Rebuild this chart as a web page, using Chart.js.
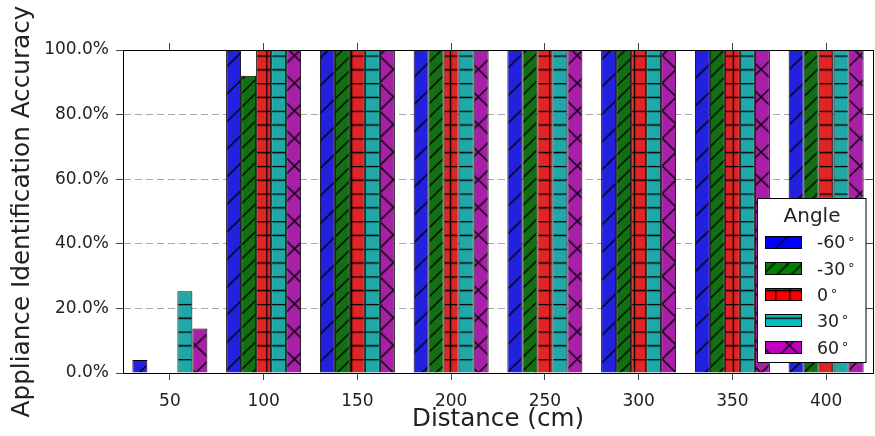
<!DOCTYPE html>
<html><head><meta charset="utf-8">
<script src="https://cdn.jsdelivr.net/npm/chart.js@4.4.1/dist/chart.umd.min.js"></script>
<style>html,body{margin:0;padding:0;background:#fff;}#wrap{width:875px;height:436px;}</style>
</head><body><div id="wrap"><canvas id="c" width="875" height="436"></canvas></div>
<script>
// ---- data ----
const distances = ['50', '100', '150', '200', '250', '300', '350', '400'];
const angleLabels = ['-60', '-30', '0', '30', '60'];
const accNeg60 = [4.0, 100, 100, 100, 100, 100, 100, 100];
const accNeg30 = [0, 92.0, 100, 100, 100, 100, 100, 100];
const acc0     = [0, 100, 100, 100, 100, 100, 100, 100];
const acc30    = [25.3, 100, 100, 100, 100, 100, 100, 100];
const acc60    = [13.8, 100, 100, 100, 100, 100, 100, 100];
const yTickValues = [0, 20, 40, 60, 80, 100];

// ---- styles ----
const FONT = "'DejaVu Sans', sans-serif";
const barColors = ['rgb(34,34,222)', 'rgb(18,112,18)', 'rgb(225,36,36)', 'rgb(32,168,168)', 'rgb(168,32,168)'];
const legendColors = ['#0000ff', '#007f00', '#ff0000', '#00bfbf', '#bf00bf'];
const hatchKinds = ['ne', 'ne2', 'plus', 'h', 'x'];

function makeHatch(bg, kind) {
  const P = 14, S = 28;
  const c = document.createElement('canvas');
  c.width = S; c.height = S;
  const g = c.getContext('2d');
  g.fillStyle = bg; g.fillRect(0, 0, S, S);
  g.strokeStyle = '#000'; g.lineWidth = 1.4;
  g.beginPath();
  if (kind === 'h' || kind === 'plus') for (let y = 0; y < S; y += P) { g.moveTo(0, y + 0.5); g.lineTo(S, y + 0.5); }
  if (kind === 'plus') for (let x = 0; x < S; x += P) { g.moveTo(x + 0.5, 0); g.lineTo(x + 0.5, S); }
  if (kind === 'ne' || kind === 'x') for (let k = -S; k <= S; k += S) { g.moveTo(k, S); g.lineTo(k + S, 0); }
  if (kind === 'ne2') for (let k = -S; k <= S; k += P) { g.moveTo(k, S); g.lineTo(k + S, 0); }
  if (kind === 'x') for (let k = -S; k <= S; k += S) { g.moveTo(k, 0); g.lineTo(k + S, S); }
  g.stroke();
  const pat = g.createPattern(c, 'repeat');
  try { pat.setTransform(new DOMMatrix([14.14 / P, 0, 0, 13.8 / P, 11.7, 0.3])); } catch (e) {}
  return pat;
}
const barPatterns = barColors.map((c, i) => makeHatch(c, hatchKinds[i]));
const legendPatterns = legendColors.map((c, i) => makeHatch(c, hatchKinds[i]));

const series = [accNeg60, accNeg30, acc0, acc30, acc60];

const legendPlugin = {
  id: 'angleLegend',
  afterDraw(chart) {
    const ctx = chart.ctx;
    ctx.save();
    const bx = 757.5, by = 198.5, bw = 108.5, bh = 164;
    ctx.fillStyle = '#fff';
    ctx.fillRect(bx, by, bw, bh);
    ctx.strokeStyle = '#000'; ctx.lineWidth = 1;
    ctx.strokeRect(bx, by, bw, bh);
    ctx.fillStyle = '#222';
    ctx.font = '20px ' + FONT;
    ctx.textAlign = 'center'; ctx.textBaseline = 'alphabetic';
    ctx.fillText('Angle', 812, 222);
    chart.data.datasets.forEach((ds, i) => {
      const cy = 242 + i * 26.3;
      const top = Math.round(cy - 6.5);
      ctx.fillStyle = legendPatterns[i];
      ctx.fillRect(765, top, 37, 13);
      ctx.strokeStyle = '#000';
      ctx.strokeRect(765.5, top + 0.5, 36, 12);
      ctx.fillStyle = '#222';
      ctx.font = '17.4px ' + FONT;
      ctx.textAlign = 'left';
      ctx.fillText(ds.label, 817, cy + 6.3);
      const w = ctx.measureText(ds.label).width;
      ctx.font = '13px ' + FONT;
      ctx.textAlign = 'center';
      ctx.fillText('\u2218', 817 + w + 6, cy + 0.5);
    });
    ctx.restore();
  }
};

new Chart(document.getElementById('c'), {
  type: 'bar',
  data: {
    labels: distances,
    datasets: series.map((d, i) => ({
      label: angleLabels[i],
      data: d,
      backgroundColor: barPatterns[i],
      borderColor: '#000',
      borderWidth: 1,
      categoryPercentage: 0.8,
      barPercentage: 1.0
    }))
  },
  options: {
    responsive: false,
    animation: false,
    devicePixelRatio: 1,
    layout: { padding: 0 },
    plugins: { legend: { display: false }, tooltip: { enabled: false } },
    scales: {
      x: {
        position: 'bottom', offset: true,
        grid: { offset: false, drawOnChartArea: false, drawTicks: true, tickLength: 7, tickColor: '#444' },
        border: { display: true, color: '#000', width: 1 },
        ticks: { font: { family: FONT, size: 17 }, color: '#222', padding: 11, maxRotation: 0, autoSkip: false },
        title: { display: true, text: 'Distance (cm)', color: '#222', font: { family: FONT, size: 24.6, lineHeight: 1.2 }, padding: { top: 0, bottom: 2 } },
        afterFit(s) { s.height = 63; }
      },
      x2: {
        type: 'category', position: 'top', offset: true,
        grid: { offset: false, drawOnChartArea: false, drawTicks: true, tickLength: 7, tickColor: '#444' },
        border: { display: true, color: '#000', width: 1 },
        ticks: { display: false },
        afterFit(s) { s.height = 50; }
      },
      y: {
        position: 'left', min: 0, max: 100,
        afterBuildTicks(s) { s.ticks = yTickValues.map(v => ({ value: v })); },
        ticks: { font: { family: FONT, size: 17 }, color: '#222', padding: 7, callback: v => v.toFixed(1) + '%' },
        grid: { color: '#a8a8a8', lineWidth: 1, drawTicks: true, tickLength: 7, tickColor: '#444' },
        border: { display: true, color: '#000', width: 1, dash: [7, 4] },
        title: { display: true, text: 'Appliance Identification Accuracy', color: '#222', font: { family: FONT, size: 24.7, lineHeight: 1.2 }, padding: { top: 8, bottom: 0 } },
        afterFit(s) { s.width = 123; }
      },
      y2: {
        position: 'right', min: 0, max: 100,
        afterBuildTicks(s) { s.ticks = yTickValues.map(v => ({ value: v })); },
        ticks: { display: false },
        grid: { drawOnChartArea: false, drawTicks: true, tickLength: -7, tickColor: '#444' },
        border: { display: true, color: '#000', width: 1 },
        afterFit(s) { s.width = 2; }
      }
    }
  },
  plugins: [legendPlugin]
});
</script>
</body></html>
